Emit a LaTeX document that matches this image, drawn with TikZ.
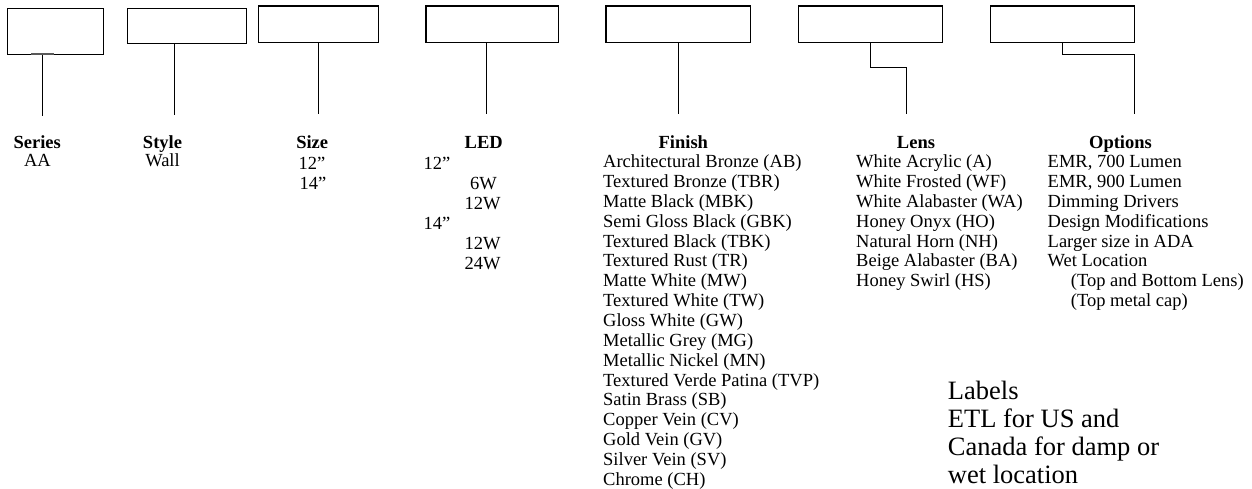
\documentclass[tikz,border=0pt]{standalone}
\usepackage{fontspec}
\setmainfont{Liberation Serif}
\begin{document}
\begin{tikzpicture}[x=1pt,y=-1pt,
  box/.style 2 args={draw, line width=1.2pt, minimum width=#1, minimum height=#2, inner sep=0pt},
  stem/.style={line width=1.5pt},
  hd/.style={font=\fontsize{18.5}{20}\selectfont\bfseries, anchor=base, inner sep=0pt},
  itc/.style={font=\fontsize{18.5}{20}\selectfont, anchor=base, inner sep=0pt},
  it/.style={font=\fontsize{18.5}{20}\selectfont, anchor=base west, inner sep=0pt},
  lab/.style={font=\fontsize{26.5}{28}\selectfont, anchor=base west, inner sep=0pt}]
\fill[white] (0,0) rectangle (1252,489);
\useasboundingbox (0,0) rectangle (1252,489);
% boxes
\node[box={96pt}{46pt}] (b1) at (55.3,31.3) {};
\node[box={119.4pt}{35pt}] (b2) at (187,25.8) {};
\node[box={120pt}{36.3pt}] (b3) at (318.3,24.2) {};
\node[box={132.3pt}{36.3pt}] (b4) at (492.2,24.2) {};
\node[box={144.3pt}{36.3pt}] (b5) at (678.2,24.2) {};
\node[box={144pt}{36.3pt}] (b6) at (870.3,24.2) {};
\node[box={144pt}{36.3pt}] (b7) at (1062.3,24.2) {};
% stem ends
\coordinate (e1) at (42.7,115.7);
\coordinate (e2) at (174.3,115);
\coordinate (e3) at (318.3,114.3);
\coordinate (e4) at (486.7,114.3);
\coordinate (e5) at (678.3,114.3);
\coordinate (e6) at (906.7,114.3);
\coordinate (e7) at (1134.3,114.3);
\coordinate (g1) at (31,54.3);
\coordinate (g2) at (54,54.3);
\draw[gray!70!black, line width=2pt] (g1) -- (g2);
\draw[stem] (b1.south -| e1) -- (e1);
\draw[stem] (b2.south -| e2) -- (e2);
\draw[stem] (b3.south -| e3) -- (e3);
\draw[stem] (b4.south -| e4) -- (e4);
\draw[stem] (b5.south -| e5) -- (e5);
\draw[stem] (b6.south) -- ++(0,24.5) -| (e6);
\draw[stem] (b7.south) -- ++(0,11.4) -| (e7);
% headings
\node[hd] (hSeries) at (37.2,149) {Series};
\node[hd] (hStyle) at (162.5,149) {Style};
\node[hd] (hSize) at (312.2,149) {Size};
\node[hd] (hLED) at (483.7,149) {LED};
\node[hd] (hFinish) at (683.3,149) {Finish};
\node[hd] (hLens) at (916,149) {Lens};
\node[hd] (hOptions) at (1120.5,149) {Options};
% series, style, size
\node[itc] (aa) at (37.5,166.3) {AA};
\node[itc] (wall) at (162.5,166.7) {Wall};
\node[it] (sz1) at (298.5,169.3) {12”};
\node[it] (sz2) at (299.3,189.3) {14”};
% LED
\node[it] (led1) at (423.3,169.3) {12”};
\node[it] (led2) at (470,189.5) {6W};
\node[it] (led3) at (464.3,209.3) {12W};
\node[it] (led4) at (423.3,229.3) {14”};
\node[it] (led5) at (464.3,249) {12W};
\node[it] (led6) at (464.3,269) {24W};
% Finish
\foreach \t [count=\i from 0] in {Architectural Bronze (AB), Textured Bronze (TBR), Matte Black (MBK), Semi Gloss Black (GBK), Textured Black (TBK), Textured Rust (TR), Matte White (MW), Textured White (TW), Gloss White (GW), Metallic Grey (MG), Metallic Nickel (MN), Textured Verde Patina (TVP), Satin Brass (SB), Copper Vein (CV), Gold Vein (GV), Silver Vein (SV), Chrome (CH)}
  \node[it] (fin\i) at (603,{167.7+19.85*\i}) {\t};
% Lens
\foreach \t [count=\i from 0] in {White Acrylic (A), White Frosted (WF), White Alabaster (WA), Honey Onyx (HO), Natural Horn (NH), Beige Alabaster (BA), Honey Swirl (HS)}
  \node[it] (lens\i) at (856,{167.7+19.85*\i}) {\t};
% Options
\foreach \t [count=\i from 0] in {{EMR, 700 Lumen}, {EMR, 900 Lumen}, Dimming Drivers, Design Modifications, Larger size in ADA, Wet Location}
  \node[it] (opt\i) at (1047.5,{167.7+19.85*\i}) {\t};
\node[it] (opt6) at (1070.7,{167.7+19.85*6}) {(Top and Bottom Lens)};
\node[it] (opt7) at (1070.7,{167.7+19.85*7}) {(Top metal cap)};
% Labels
\node[lab] (lab0) at (947.7,399.5) {Labels};
\node[lab] (lab1) at (947.7,427.5) {ETL for US and};
\node[lab] (lab2) at (947.7,455.5) {Canada for damp or};
\node[lab] (lab3) at (947.7,483.5) {wet location};
\end{tikzpicture}
\end{document}
